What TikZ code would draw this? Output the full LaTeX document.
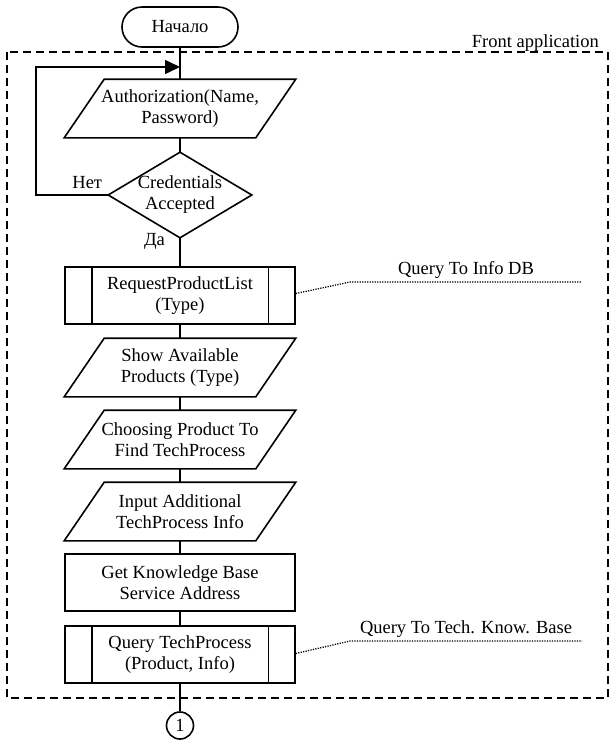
\documentclass[tikz,border=0pt]{standalone}
\usepackage{fontspec}
\setmainfont{Liberation Serif}
\usetikzlibrary{arrows.meta}

\begin{document}
\begin{tikzpicture}[x=1pt,y=-1pt,line width=1.6pt,
  every node/.style={font=\fontsize{18.5pt}{21pt}\selectfont},
  terminal/.style={draw,rounded corners=20pt,minimum width=116pt,minimum height=40pt},
  block/.style={draw,minimum width=230pt,minimum height=57pt,align=center,inner sep=0pt},
  io/.style={minimum width=190pt,minimum height=57pt,align=center,inner sep=0pt},
  cond/.style={minimum width=142pt,minimum height=84pt,align=center,inner sep=0pt},
  conn/.style={draw,circle,minimum size=27pt,inner sep=0pt},
  comment/.style={line width=1.3pt,dash pattern=on 1.2pt off 1.3pt},
  frame/.style={line width=1.8pt,dash pattern=on 8pt off 5pt}]
\useasboundingbox (0,0) rectangle (610,740);

% front application boundary
\draw[frame] (7,52) rectangle (608,698);
\node[anchor=base east] (front) at (603,47) {Front application};

\node[terminal] (start) at (180,27) {Начало};
\node[io] (auth) at (180,108.5) {Authorization(Name,\\Password)};
\node[cond] (cred) at (180,195) {Credentials\\Accepted};
\node[block] (req) at (180,295.5) {RequestProductList\\(Type)};
\node[io] (show) at (180,367.5) {Show Available\\Products (Type)};
\node[io] (choose) at (180,439.5) {Choosing Product To\\Find TechProcess};
\node[io] (input) at (180,511.5) {Input Additional\\TechProcess Info};
\node[block] (addr) at (180,582.5) {Get Knowledge Base\\Service Address};
\node[block] (query) at (180,654.5) {Query TechProcess\\(Product, Info)};
\node[conn] (out) at (180,725.5) {1};

% parallelograms for input/output
\foreach \n in {auth,show,choose,input}
  \draw ([xshift=-20pt]\n.south west) -- ([xshift=20pt]\n.north west)
    -- ([xshift=20pt]\n.north east) -- ([xshift=-20pt]\n.south east) -- cycle;

% decision
\draw (cred.north) -- (cred.east) -- (cred.south) -- (cred.west) -- cycle;

% side bars of the subprocesses
\foreach \n in {req,query} {
  \draw ([xshift=27.5pt]\n.north west) -- ([xshift=27.5pt]\n.south west);
  \draw ([xshift=-27.5pt]\n.north east) -- ([xshift=-27.5pt]\n.south east);
}

\draw (start) -- (auth);
\draw (auth) -- (cred);
\draw (cred) -- (req);
\draw (req) -- (show);
\draw (show) -- (choose);
\draw (choose) -- (input);
\draw (input) -- (addr);
\draw (addr) -- (query);
\draw (query) -- (out);

% retry loop
\coordinate (loop) at (36,67);
\coordinate (join) at (180,67);
\draw[-{Triangle[length=15pt,width=14pt]}] (cred.west) -| (loop) -- (join);
\node[anchor=base east] (no) at ([xshift=-2pt,yshift=7pt]cred.west) {Нет};
\node[anchor=base east] (yes) at ([xshift=-11pt,yshift=-8pt]cred.south) {Да};

% notes
\coordinate (dbknee) at (350,282);
\coordinate (dbend) at (582,282);
\draw[comment] ([yshift=2pt]req.east) -- (dbknee) -- node[above,inner sep=3pt] (dbnote) {Query To Info DB} (dbend);

\coordinate (kbknee) at (350,641);
\coordinate (kbend) at (582,641);
\draw[comment] ([yshift=1pt]query.east) -- (kbknee) -- node[above,inner sep=3pt] (kbnote) {Query To Tech. Know. Base} (kbend);

\end{tikzpicture}
\end{document}
